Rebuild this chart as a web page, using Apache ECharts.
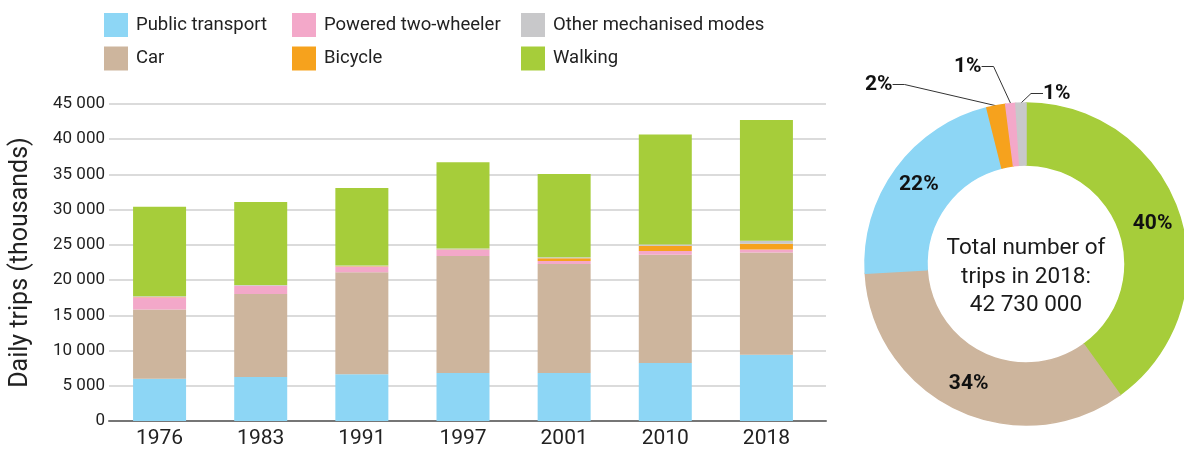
<!DOCTYPE html>
<html>
<head>
<meta charset="utf-8">
<script src="https://cdn.jsdelivr.net/npm/echarts@6/dist/echarts.min.js"></script>
<style>
  html, body { margin: 0; padding: 0; background: #fff; }
  #chart { width: 1184px; height: 452px; }
</style>
</head>
<body>
<div id="chart"></div>
<script>
// daily trips, thousands
const years = ['1976', '1983', '1991', '1997', '2001', '2010', '2018']
const publicTransport = [6000, 6260, 6640, 6830, 6830, 8250, 9400]
const car = [9840, 11760, 14460, 16590, 15450, 15360, 14530]
const twoWheeler = [1710, 1130, 800, 850, 430, 520, 430]
const bicycle = [60, 60, 60, 60, 380, 760, 810]
const otherModes = [100, 100, 100, 150, 150, 150, 430]
const walking = [12690, 11790, 11030, 12260, 11840, 15630, 17130]

const yTicks = [0, 5000, 10000, 15000, 20000, 25000, 30000, 35000, 40000, 45000]

const COLORS = {
  'Public transport': '#8dd6f5',
  'Car': '#cdb59d',
  'Powered two-wheeler': '#f3a8c9',
  'Bicycle': '#f6a21d',
  'Other mechanised modes': '#c8c8ca',
  'Walking': '#a6cd3a'
}

const FONT = 'Roboto, "Liberation Sans", sans-serif'
const PIE_CX = 1026
const PIE_CY = 264

// top-left of the small outside labels, relative to the donut centre
const smallLabelOffset = { 3: [-161, -190], 4: [-72, -208], 5: [17, -181] }

function spaced(v) {
  return String(v).replace(/\B(?=(\d{3})+(?!\d))/g, ' ')
}

const chart = echarts.init(document.getElementById('chart'))

const stackSeries = [
  ['Public transport', publicTransport],
  ['Car', car],
  ['Powered two-wheeler', twoWheeler],
  ['Bicycle', bicycle],
  ['Other mechanised modes', otherModes],
  ['Walking', walking]
].map(([name, data]) => ({
  name,
  type: 'bar',
  stack: 'total',
  xAxisIndex: 1,
  yAxisIndex: 1,
  barWidth: 53,
  itemStyle: { color: COLORS[name] },
  data
}))

const last = years.length - 1
const pieData = [
  { name: 'Walking', value: walking[last] },
  { name: 'Car', value: car[last] },
  { name: 'Public transport', value: publicTransport[last] },
  { name: 'Bicycle', value: bicycle[last] },
  { name: 'Powered two-wheeler', value: twoWheeler[last] },
  { name: 'Other mechanised modes', value: otherModes[last] }
].map((d, i) => ({
  ...d,
  // stroke in the slice colour hides the seams between slices
  itemStyle: { color: COLORS[d.name], borderColor: COLORS[d.name], borderWidth: 1.5 },
  label: i >= 3 ? { position: 'outside' } : { position: 'inside' },
  labelLine: { show: i >= 3 }
}))

const total2018 = pieData.reduce((s, d) => s + d.value, 0) * 1000

function legendColumn(left, names) {
  return {
    orient: 'vertical',
    left,
    top: 8,
    itemWidth: 24,
    itemHeight: 24,
    itemGap: 9.5,
    itemStyle: { borderWidth: 0 },
    icon: 'rect',
    selectedMode: false,
    data: names,
    textStyle: { fontFamily: FONT, fontSize: 18.5, color: '#222', padding: [0, 0, 0, 3] }
  }
}

const option = {
  animation: false,
  legend: [
    legendColumn(99, ['Public transport', 'Car']),
    legendColumn(287, ['Powered two-wheeler', 'Bicycle']),
    legendColumn(516, ['Other mechanised modes', 'Walking'])
  ],
  grid: [
    { left: 100, width: 726, top: 104, height: 317 },
    { left: 109, width: 708, top: 104, height: 317 }
  ],
  xAxis: [
    {
      gridIndex: 0,
      type: 'category',
      data: years,
      axisLine: { lineStyle: { color: '#767676', width: 2 } },
      axisTick: { show: false },
      axisLabel: { show: false }
    },
    {
      gridIndex: 1,
      type: 'category',
      data: years,
      axisLine: { show: false },
      axisTick: { show: false },
      axisLabel: { fontFamily: FONT, fontSize: 21, color: '#222', margin: 7 }
    }
  ],
  yAxis: [
    {
      gridIndex: 0,
      type: 'value',
      min: yTicks[0],
      max: yTicks[yTicks.length - 1],
      interval: yTicks[1] - yTicks[0],
      name: 'Daily trips (thousands)',
      nameLocation: 'middle',
      nameGap: 76,
      nameTextStyle: { fontFamily: FONT, fontSize: 25, color: '#222' },
      axisLine: { show: false },
      axisTick: { show: false },
      axisLabel: { fontFamily: FONT, fontSize: 17, color: '#222', margin: 4, formatter: spaced },
      splitLine: { lineStyle: { color: '#cfcfcf', width: 1.5 } }
    },
    {
      gridIndex: 1,
      type: 'value',
      min: yTicks[0],
      max: yTicks[yTicks.length - 1],
      show: false
    }
  ],
  series: [
    ...stackSeries,
    {
      name: '2018',
      type: 'pie',
      center: [PIE_CX, PIE_CY],
      radius: [99, 161],
      startAngle: 90,
      avoidLabelOverlap: false,
      label: {
        formatter: (p) => Math.round(p.percent) + '%',
        fontFamily: FONT,
        fontSize: 21,
        fontWeight: 'bold',
        color: '#111'
      },
      labelLine: { length: 12, length2: 12, lineStyle: { color: '#333', width: 1 } },
      labelLayout: (p) => {
        const off = smallLabelOffset[p.dataIndex]
        if (!off) return {}
        return { x: PIE_CX + off[0], y: PIE_CY + off[1], align: 'left', verticalAlign: 'top' }
      },
      data: pieData
    }
  ],
  graphic: [
    {
      type: 'text',
      x: PIE_CX,
      y: PIE_CY + 13,
      style: {
        text: 'Total number of\ntrips in 2018:\n' + spaced(total2018),
        fontFamily: FONT,
        fontSize: 22.5,
        lineHeight: 28.5,
        fill: '#1a1a1a',
        textAlign: 'center',
        textVerticalAlign: 'middle'
      }
    }
  ]
}

chart.setOption(option)
</script>
</body>
</html>
